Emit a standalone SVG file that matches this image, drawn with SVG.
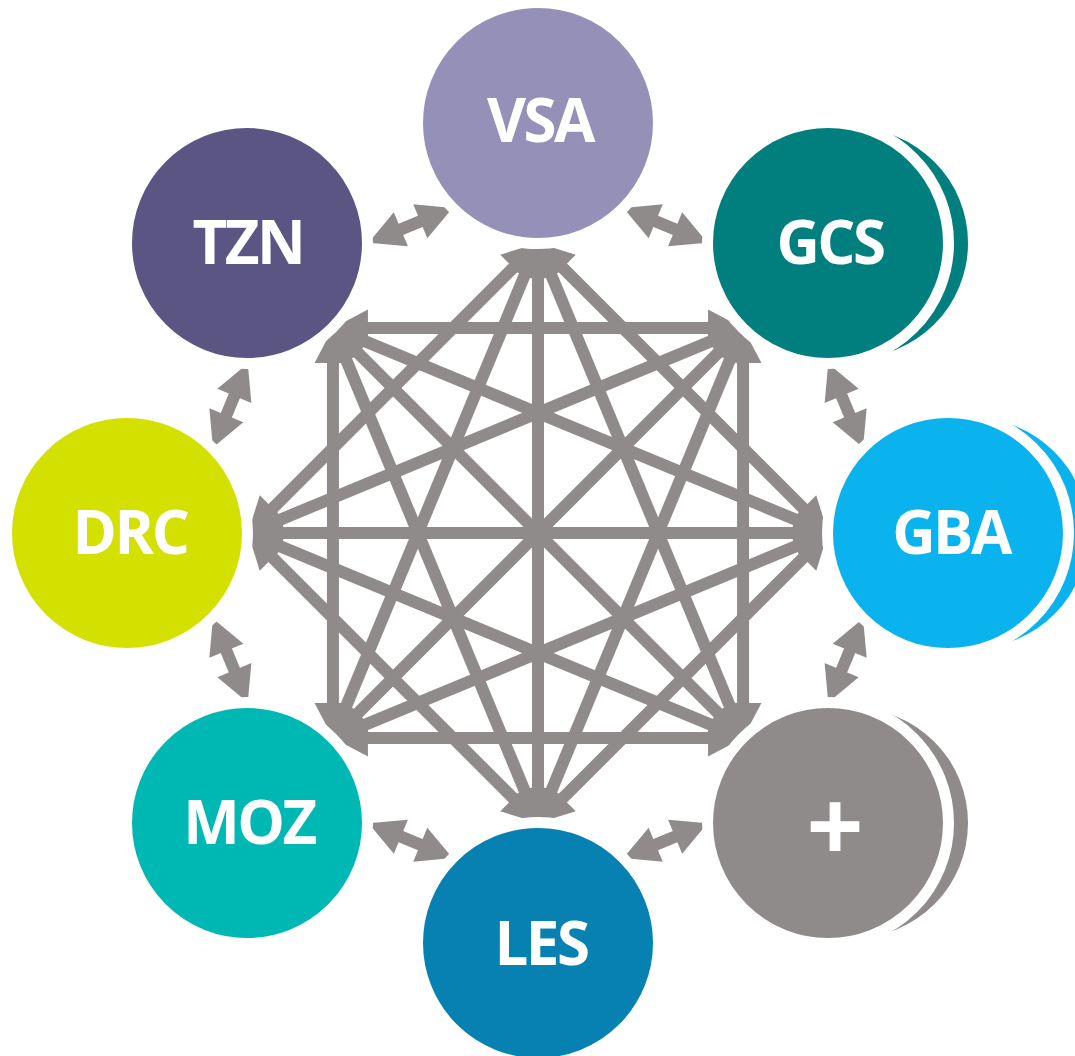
<svg xmlns="http://www.w3.org/2000/svg" width="1075" height="1056" viewBox="0 0 1075 1056">
  <style>
    .link { stroke: #8f8b8a; stroke-width: 12; fill: none; marker-start: url(#head); marker-end: url(#head); }
    .node { stroke: #ffffff; stroke-width: 11; }
    .lbl { font-family: "Open Sans", "Noto Sans", sans-serif; font-weight: 700; font-size: 60px; letter-spacing: -2.5px; fill: #ffffff; text-anchor: middle; }
  </style>
  <defs>
    <!-- arrowhead: tip sits 20 units beyond the end of the shaft -->
    <marker id="head" markerUnits="userSpaceOnUse" markerWidth="80" markerHeight="80" refX="0" refY="0" orient="auto-start-reverse" overflow="visible">
      <path d="M20,0 L-15,-18.4 L-15,18.4 Z" fill="#8f8b8a"/>
    </marker>
  </defs>
  <rect width="1075" height="1056" fill="#ffffff"/>

  <g id="connectors">
    <!-- central network: every octagon vertex linked to each non-neighbouring vertex -->
    <line class="link" x1="552.14" y1="257.14" x2="813.86" y2="518.86"/>
    <line class="link" x1="743.06" y1="347.94" x2="743.06" y2="718.06"/>
    <line class="link" x1="813.86" y1="547.14" x2="552.14" y2="808.86"/>
    <line class="link" x1="723.06" y1="738.06" x2="352.94" y2="738.06"/>
    <line class="link" x1="523.86" y1="808.86" x2="262.14" y2="547.14"/>
    <line class="link" x1="332.94" y1="718.06" x2="332.94" y2="347.94"/>
    <line class="link" x1="262.14" y1="518.86" x2="523.86" y2="257.14"/>
    <line class="link" x1="352.94" y1="327.94" x2="723.06" y2="327.94"/>
    <line class="link" x1="538" y1="263" x2="538" y2="803"/>
    <line class="link" x1="728.92" y1="342.08" x2="347.08" y2="723.92"/>
    <line class="link" x1="808" y1="533" x2="268" y2="533"/>
    <line class="link" x1="728.92" y1="723.92" x2="347.08" y2="342.08"/>
    <line class="link" x1="545.65" y1="261.48" x2="735.41" y2="719.58"/>
    <line class="link" x1="735.41" y1="346.42" x2="545.65" y2="804.52"/>
    <line class="link" x1="809.52" y1="540.65" x2="351.42" y2="730.41"/>
    <line class="link" x1="724.58" y1="730.41" x2="266.48" y2="540.65"/>
    <line class="link" x1="530.35" y1="804.52" x2="340.59" y2="346.42"/>
    <line class="link" x1="340.59" y1="719.58" x2="530.35" y2="261.48"/>
    <line class="link" x1="266.48" y1="525.35" x2="724.58" y2="335.59"/>
    <line class="link" x1="351.42" y1="335.59" x2="809.52" y2="525.35"/>
    <!-- short two-way arrows between neighbouring circles -->
    <line class="link" x1="835.89" y1="382.01" x2="855.41" y2="429.13"/>
    <line class="link" x1="641.87" y1="215.59" x2="688.99" y2="235.11"/>
    <line class="link" x1="387.01" y1="235.11" x2="434.13" y2="215.59"/>
    <line class="link" x1="220.59" y1="429.13" x2="240.11" y2="382.01"/>
    <line class="link" x1="240.11" y1="683.99" x2="220.59" y2="636.87"/>
    <line class="link" x1="434.13" y1="850.41" x2="387.01" y2="830.89"/>
    <line class="link" x1="688.99" y1="830.89" x2="641.87" y2="850.41"/>
    <line class="link" x1="855.41" y1="636.87" x2="835.89" y2="683.99"/>
  </g>

  <g id="node-vsa">
    <circle class="node" cx="538" cy="123" r="120.5" fill="#9590b8"/>
    <text class="lbl" x="540" y="142">VSA</text>
  </g>
  <g id="node-gcs">
    <circle cx="853" cy="243" r="115" fill="#007f7e"/>
    <circle class="node" cx="828" cy="243" r="120.5" fill="#007f7e"/>
    <text class="lbl" x="830" y="264">GCS</text>
  </g>
  <g id="node-gba">
    <circle cx="973" cy="533" r="115" fill="#0ab2ee"/>
    <circle class="node" cx="948" cy="533" r="120.5" fill="#0ab2ee"/>
    <text class="lbl" x="951" y="554">GBA</text>
  </g>
  <g id="node-plus">
    <circle cx="853" cy="823" r="115" fill="#8f8b8a"/>
    <circle class="node" cx="828" cy="823" r="120.5" fill="#8f8b8a"/>
    <text class="lbl" x="835" y="862" style="font-size:100px;letter-spacing:0">+</text>
  </g>
  <g id="node-les">
    <circle class="node" cx="538" cy="943" r="120.5" fill="#0681b1"/>
    <text class="lbl" x="541" y="965">LES</text>
  </g>
  <g id="node-moz">
    <circle class="node" cx="247" cy="823" r="120.5" fill="#00b8b3"/>
    <text class="lbl" x="249" y="844">MOZ</text>
  </g>
  <g id="node-drc">
    <circle class="node" cx="127" cy="533" r="120.5" fill="#d3e000"/>
    <text class="lbl" x="130" y="554">DRC</text>
  </g>
  <g id="node-tzn">
    <circle class="node" cx="247" cy="243" r="120.5" fill="#5a5583"/>
    <text class="lbl" x="248" y="264">TZN</text>
  </g>
</svg>
